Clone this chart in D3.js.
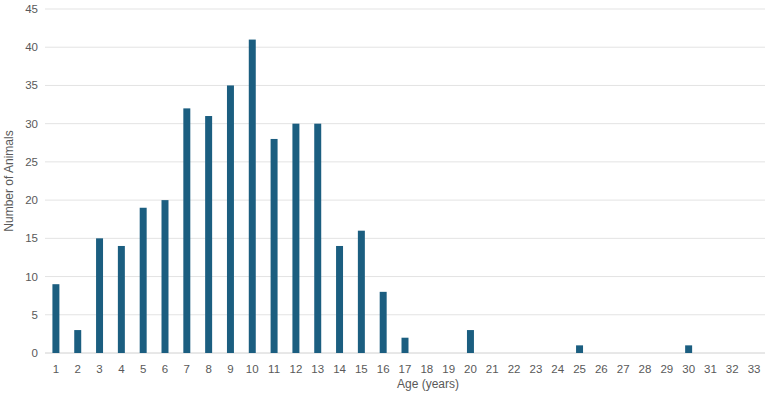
<!DOCTYPE html>
<html>
<head>
<meta charset="utf-8">
<script src="https://cdn.jsdelivr.net/npm/d3@7"></script>
<style>
  body { margin: 0; background: #fff; }
  text { font-family: "Liberation Sans", Arial, sans-serif; }
</style>
</head>
<body>
<div id="chart"></div>
<script>
const width = 767;
const height = 400;

const ages = d3.range(1, 34).map(String);
const counts = [9, 3, 15, 14, 19, 20, 32, 31, 35, 41, 28, 30, 30, 14, 16, 8, 2, 0, 0, 3,
                0, 0, 0, 0, 1, 0, 0, 0, 0, 1, 0, 0, 0];
const yTicks = [0, 5, 10, 15, 20, 25, 30, 35, 40, 45];

const margin = {top: 9, right: 2, bottom: 47, left: 45};

const svg = d3.select("#chart").append("svg")
   .attr("width", width)
   .attr("height", height);

const x = d3.scaleBand()
   .domain(ages)
   .range([margin.left, width - margin.right])
   .paddingInner(0.68)
   .paddingOuter(0.34);

const y = d3.scaleLinear()
   .domain([0, 45])
   .range([height - margin.bottom, margin.top]);

// gridlines
svg.append("g")
   .selectAll("line")
   .data(yTicks)
   .enter()
   .append("line")
   .attr("x1", margin.left)
   .attr("x2", width - margin.right)
   .attr("y1", d => y(d))
   .attr("y2", d => y(d))
   .attr("stroke", d => d === 0 ? "#d0d0d0" : "#e3e3e3")
   .attr("stroke-width", 1);

// y labels
svg.append("g")
   .selectAll("text")
   .data(yTicks)
   .enter()
   .append("text")
   .attr("x", margin.left - 7)
   .attr("y", d => y(d) + 4)
   .attr("text-anchor", "end")
   .attr("font-size", 11.5)
   .attr("fill", "#595959")
   .text(d => d);

// bars
svg.selectAll("rect.bar")
   .data(counts)
   .enter()
   .append("rect")
   .attr("class", "bar")
   .attr("x", (d, i) => x(ages[i]))
   .attr("width", x.bandwidth())
   .attr("y", d => y(d))
   .attr("height", d => y(0) - y(d))
   .attr("fill", "#1b5e80");

// x labels
svg.append("g")
   .selectAll("text")
   .data(ages)
   .enter()
   .append("text")
   .attr("x", d => x(d) + x.bandwidth() / 2)
   .attr("y", y(0) + 20)
   .attr("text-anchor", "middle")
   .attr("font-size", 11.5)
   .attr("fill", "#595959")
   .text(d => d);

svg.append("text")
   .attr("x", 428)
   .attr("y", 388)
   .attr("text-anchor", "middle")
   .attr("font-size", 12)
   .attr("fill", "#595959")
   .text("Age (years)");

svg.append("text")
   .attr("transform", `translate(13, ${(y(0) + y(45)) / 2}) rotate(-90)`)
   .attr("text-anchor", "middle")
   .attr("font-size", 12)
   .attr("fill", "#595959")
   .text("Number of Animals");
</script>
</body>
</html>
